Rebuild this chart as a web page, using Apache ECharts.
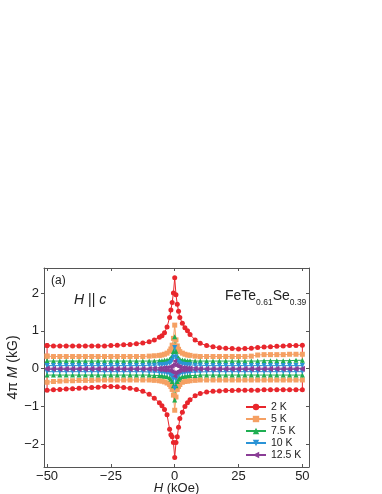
<!DOCTYPE html>
<html><head><meta charset="utf-8">
<script src="https://cdn.jsdelivr.net/npm/echarts@6/dist/echarts.min.js"></script>
<style>html,body{margin:0;padding:0;background:#fff}#c{width:382px;height:494px}</style>
</head><body><div id="c"></div>
<script>
// Field values (kOe), shared by all branches
const fields = [-50,-47.5,-45,-42.5,-40,-37.5,-35,-32.5,-30,-27.5,-25,-22.5,-20,-17.5,-15,-12.5,-10,-8,-6,-5,-4,-3,-2,-1.5,-1,-0.5,0,0.5,1,1.5,2,3,4,5,6,8,10,12.5,15,17.5,20,22.5,25,27.5,30,32.5,35,37.5,40,42.5,45,47.5,50];
const temps = ['2 K','5 K','7.5 K','10 K','12.5 K'];
// Upper branches 4πM (kG)
const up2K   = [0.61,0.60,0.60,0.60,0.60,0.60,0.60,0.60,0.60,0.60,0.61,0.62,0.63,0.64,0.66,0.68,0.71,0.76,0.83,0.87,0.95,1.10,1.35,1.55,1.75,2.00,2.40,1.95,1.70,1.52,1.35,1.20,1.08,1.00,0.90,0.76,0.67,0.61,0.58,0.55,0.54,0.53,0.52,0.53,0.54,0.56,0.57,0.58,0.59,0.60,0.61,0.61,0.62];
const up5K   = [0.33,0.32,0.32,0.32,0.32,0.32,0.32,0.32,0.32,0.32,0.32,0.32,0.32,0.32,0.32,0.32,0.33,0.34,0.35,0.36,0.38,0.41,0.46,0.52,0.62,0.80,1.15,0.76,0.60,0.51,0.45,0.41,0.38,0.36,0.35,0.33,0.32,0.32,0.32,0.32,0.32,0.32,0.32,0.32,0.33,0.36,0.37,0.37,0.37,0.37,0.38,0.38,0.38];
const up75K  = [0.20,0.20,0.20,0.20,0.20,0.20,0.20,0.20,0.20,0.20,0.20,0.20,0.20,0.20,0.20,0.20,0.20,0.20,0.21,0.21,0.22,0.23,0.25,0.28,0.33,0.45,0.84,0.46,0.33,0.28,0.25,0.23,0.22,0.21,0.21,0.20,0.20,0.20,0.20,0.20,0.20,0.20,0.20,0.20,0.20,0.20,0.21,0.21,0.21,0.21,0.21,0.22,0.22];
const up10K  = [0.08,0.08,0.08,0.08,0.08,0.08,0.08,0.08,0.08,0.08,0.08,0.08,0.08,0.08,0.08,0.08,0.09,0.09,0.10,0.10,0.11,0.12,0.14,0.17,0.22,0.30,0.56,0.30,0.22,0.17,0.14,0.12,0.11,0.10,0.10,0.09,0.09,0.08,0.08,0.08,0.08,0.08,0.08,0.08,0.08,0.08,0.08,0.08,0.08,0.08,0.08,0.08,0.08];
const up125K = [0.01,0.01,0.01,0.01,0.01,0.01,0.01,0.01,0.01,0.01,0.01,0.01,0.01,0.01,0.01,0.01,0.01,0.02,0.02,0.02,0.03,0.03,0.04,0.05,0.07,0.10,0.20,0.10,0.07,0.05,0.04,0.03,0.03,0.02,0.02,0.02,0.01,0.01,0.01,0.01,0.01,0.01,0.01,0.01,0.01,0.01,0.01,0.01,0.01,0.01,0.01,0.01,0.01];
// Lower branches 4πM (kG)
const lo2K   = [-0.57,-0.56,-0.55,-0.54,-0.53,-0.52,-0.51,-0.50,-0.49,-0.47,-0.47,-0.48,-0.50,-0.52,-0.55,-0.60,-0.68,-0.78,-0.90,-0.98,-1.08,-1.22,-1.60,-1.75,-1.80,-1.95,-2.35,-1.95,-1.80,-1.55,-1.32,-1.15,-1.00,-0.90,-0.82,-0.72,-0.66,-0.62,-0.60,-0.59,-0.58,-0.58,-0.57,-0.57,-0.57,-0.57,-0.56,-0.56,-0.56,-0.56,-0.56,-0.56,-0.56];
const lo5K   = [-0.36,-0.34,-0.33,-0.32,-0.32,-0.31,-0.31,-0.31,-0.30,-0.30,-0.30,-0.30,-0.30,-0.30,-0.30,-0.30,-0.30,-0.31,-0.32,-0.33,-0.35,-0.38,-0.42,-0.47,-0.55,-0.70,-1.10,-0.75,-0.55,-0.47,-0.42,-0.36,-0.34,-0.33,-0.32,-0.31,-0.30,-0.30,-0.30,-0.30,-0.30,-0.30,-0.30,-0.30,-0.30,-0.30,-0.30,-0.30,-0.30,-0.30,-0.30,-0.30,-0.30];
const lo75K  = [-0.17,-0.17,-0.17,-0.17,-0.17,-0.17,-0.17,-0.17,-0.17,-0.17,-0.17,-0.17,-0.17,-0.17,-0.17,-0.17,-0.17,-0.18,-0.18,-0.19,-0.20,-0.21,-0.24,-0.28,-0.34,-0.45,-0.83,-0.45,-0.34,-0.28,-0.24,-0.21,-0.20,-0.19,-0.18,-0.18,-0.17,-0.17,-0.17,-0.17,-0.17,-0.17,-0.17,-0.17,-0.17,-0.17,-0.17,-0.17,-0.17,-0.17,-0.17,-0.17,-0.17];
const lo10K  = [-0.08,-0.08,-0.08,-0.08,-0.08,-0.08,-0.08,-0.08,-0.08,-0.08,-0.08,-0.08,-0.08,-0.08,-0.08,-0.08,-0.09,-0.09,-0.10,-0.10,-0.11,-0.12,-0.14,-0.17,-0.21,-0.28,-0.52,-0.28,-0.21,-0.17,-0.14,-0.12,-0.11,-0.10,-0.10,-0.09,-0.09,-0.08,-0.08,-0.08,-0.08,-0.08,-0.08,-0.08,-0.08,-0.08,-0.08,-0.08,-0.08,-0.08,-0.08,-0.08,-0.08];
const lo125K = [-0.02,-0.02,-0.02,-0.02,-0.02,-0.02,-0.02,-0.02,-0.02,-0.02,-0.02,-0.02,-0.02,-0.02,-0.02,-0.02,-0.02,-0.03,-0.03,-0.03,-0.04,-0.04,-0.05,-0.06,-0.08,-0.11,-0.20,-0.11,-0.08,-0.06,-0.05,-0.04,-0.04,-0.03,-0.03,-0.03,-0.02,-0.02,-0.02,-0.02,-0.02,-0.02,-0.02,-0.02,-0.02,-0.02,-0.02,-0.02,-0.02,-0.02,-0.02,-0.02,-0.02];
const xTicks = [-50,-25,0,25,50];
const yTicks = [-2,-1,0,1,2];

const ups = [up2K, up5K, up75K, up10K, up125K];
const los = [lo2K, lo5K, lo75K, lo10K, lo125K];
const colors = ['#e8262c','#f5a063','#1fae52','#2a93d6','#8a3d96'];
const symbols = ['circle','rect','triangle','triangle','triangle'];
const rots = [0,0,0,180,90];
const sizes = [5,5,5,5,5];

function loop(u, l) {
  const pts = [];
  for (let i = 0; i < fields.length; i++) pts.push([fields[i], u[i]]);
  for (let i = fields.length - 1; i >= 0; i--) pts.push([fields[i], l[i]]);
  pts.push([fields[0], u[0]]);
  return pts;
}
const font = 'Liberation Sans, Arial, Helvetica, sans-serif';
const fmtMinus = v => String(v).replace('-', '\u2212');

const chart = echarts.init(document.getElementById('c'), null, {renderer: 'canvas'});
const axisLine = {show: true, onZero: false, lineStyle: {color: '#555', width: 1}};
const series = temps.map((t, k) => ({
  name: t, type: 'line', data: loop(ups[k], los[k]),
  symbol: symbols[k], symbolSize: sizes[k], symbolRotate: rots[k],
  showAllSymbol: true,
  lineStyle: {color: colors[k], width: 1},
  itemStyle: {color: colors[k]},
  emphasis: {disabled: true}, animation: false
}));

chart.setOption({
  animation: false,
  grid: {left: 44, top: 268, width: 265, height: 199, containLabel: false, outerBoundsMode: 'none'},
  xAxis: [{
    type: 'value', min: -51.2, max: 52.6, position: 'bottom',
    axisLine, splitLine: {show: false},
    axisTick: {show: true, inside: true, length: 3, customValues: xTicks, lineStyle: {color: '#555'}},
    axisLabel: {show: true, customValues: xTicks, formatter: fmtMinus, color: '#222', fontSize: 13, fontFamily: font, margin: 3},
    name: '{i|H} (kOe)', nameLocation: 'middle', nameGap: 15, nameMoveOverlap: false,
    nameTextStyle: {color: '#222', fontSize: 13, fontFamily: font, rich: {i: {fontStyle: 'italic', fontSize: 13, fontFamily: font, color: '#222'}}}
  }, {
    type: 'value', min: -51.2, max: 52.6, position: 'top',
    axisLine, splitLine: {show: false},
    axisTick: {show: true, inside: true, length: 3, customValues: xTicks, lineStyle: {color: '#555'}},
    axisLabel: {show: false}
  }],
  yAxis: [{
    type: 'value', min: -2.6, max: 2.66, position: 'left',
    axisLine, splitLine: {show: false},
    axisTick: {show: true, inside: false, length: 3, customValues: yTicks, lineStyle: {color: '#555'}},
    axisLabel: {show: true, customValues: yTicks, formatter: fmtMinus, color: '#222', fontSize: 13, fontFamily: font, margin: 5},
    name: '4π {i|M} (kG)', nameLocation: 'middle', nameGap: 24, nameRotate: 90, nameMoveOverlap: false,
    nameTextStyle: {color: '#222', fontSize: 14, fontFamily: font, rich: {i: {fontStyle: 'italic', fontSize: 14, fontFamily: font, color: '#222'}}}
  }, {
    type: 'value', min: -2.6, max: 2.66, position: 'right',
    axisLine, splitLine: {show: false},
    axisTick: {show: true, inside: true, length: 3, customValues: yTicks, lineStyle: {color: '#555'}},
    axisLabel: {show: false}
  }],
  legend: {
    orient: 'vertical', left: 245, top: 401, itemWidth: 20, itemHeight: 8, itemGap: 0,
    textStyle: {color: '#222', fontSize: 10.5, fontFamily: font, lineHeight: 12, height: 12},
    data: temps, selectedMode: false, padding: 0
  },
  graphic: [
    {type: 'text', left: 51, top: 275, style: {text: '(a)', fontSize: 12, fontFamily: font, fill: '#222'}},
    {type: 'text', left: 74, top: 293, style: {
      text: '{i|H} {n|||} {i|c}', fontSize: 14, fontFamily: font, fill: '#222',
      rich: {i: {fontStyle: 'italic', fontSize: 14, fontFamily: font, fill: '#222'}, n: {fontSize: 14, fontFamily: font, fill: '#222'}}
    }},
    {type: 'text', left: 225, top: 289, style: {
      text: '{n|FeTe}{s|0.61}{n|Se}{s|0.39}', fill: '#222',
      rich: {
        n: {fontSize: 14, fontFamily: font, lineHeight: 22, verticalAlign: 'middle', fill: '#222'},
        s: {fontSize: 8.5, fontFamily: font, lineHeight: 10, verticalAlign: 'bottom', fill: '#222'}
      }
    }}
  ],
  series
});
</script></body></html>
